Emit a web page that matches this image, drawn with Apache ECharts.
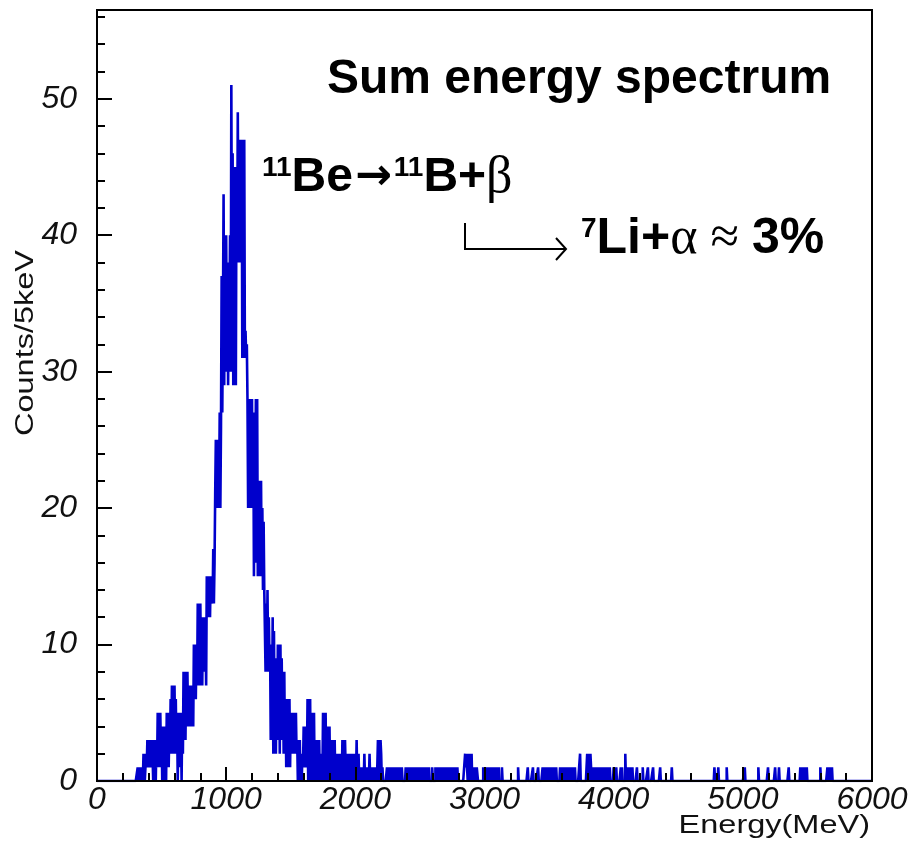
<!DOCTYPE html>
<html><head><meta charset="utf-8">
<script src="https://cdn.jsdelivr.net/npm/echarts@6/dist/echarts.min.js"></script>
<style>html,body{margin:0;padding:0;background:#fff}#c{width:915px;height:851px}</style>
</head><body><div id="c"></div>
<script>
// ---- data (counts per 5 keV bin) ----
const binWidth = 5;
const eMin = 0, eMax = 6000;
const coreStart = 300;   // energy of first bin in coreCounts
const coreCounts = [
  0,0,0,1,0,1,0,1,1,0,   1,0,2,1,0,1,2,1,3,1,
  3,1,2,3,1,3,2,0,3,1,   2,0,3,1,5,2,4,1,5,2,
  4,0,3,1,4,0,3,0,5,1,   5,1,4,2,6,2,7,3,6,2,
  7,3,6,2,5,0,4,1,5,2,   4,0,5,2,8,4,7,3,8,4,
  8,4,6,4,7,4,6,5,7,4,   10,6,9,6,10,7,13,8,12,7,
  13,8,11,7,12,8,12,9,11,7,   15,12,14,13,15,12,15,13,14,13,
  17,13,16,21,25,20,24,20,25,21,   27,20,26,37,27,34,43,29,40,30,
  40,32,38,29,36,34,40,30,51,35,   46,29,45,33,44,29,45,38,49,40,
  47,38,46,39,47,31,46,33,47,31,   33,31,32,28,20,27,21,28,20,26,
  28,20,27,15,26,21,28,16,28,15,   22,15,21,16,22,15,20,14,19,14,
  14,8,13,9,14,8,12,9,10,3,   9,3,12,2,11,4,9,2,8,3,
  10,3,9,2,10,4,9,3,8,2,   8,2,6,1,5,1,6,2,6,1,
  5,2,4,2,5,2,5,3,5,2,   3,0,2,0,3,0,2,0,2,1,
  4,1,3,1,4,1,6,0,5,0,   6,0,5,1,4,0,5,0,3,0,
  3,0,2,0,3,0,2,1,2,0,   5,0,4,1,5,0,3,0,4,0,
  4,0,3,0,3,1,2,0,3,0,   2,0,1,0,2,0,1,0,2,0,
  3,0,2,0,3,1,2,0,1,0,   2,0,1,0,2,1,0,2,0,1,
  2,0,3,0,1,2,0,1,0,1,   1,0,1,0,2,0,1,0,1,0,
  1,0,2,0,1,0,1,0,1,0,   1,0,1,0,1,3,0,2,0,3,
  2,0,1,0,0,0,0,0,0,1,   0,1,0,1,0,1,1,0,1,0
];
// sparse tail: bin start energies and their counts
const tailEnergies = [
  2300,2310,2320,2325,2335,2345,2350,2360,
  2390,2400,2405,2415,2425,2430,2440,2450,2455,2465,2475,2490,
  2505,2510,2520,2530,2540,2550,2560,2570,2595,
  2620,2625,2635,2645,2650,2660,2670,2675,2685,2695,2705,2715,2725,2735,2740,2750,2760,2770,2780,2790,
  2850,2855,2860,2865,2875,2880,2890,2900,2910,2920,2930,2940,2945,
  2990,3000,3010,3015,3030,3040,3050,3055,3065,3075,3095,3110,3135,
  3260,3335,3375,3415,3450,3460,3475,3485,3505,3515,3525,3540,3555,
  3585,3590,3600,3610,3615,3625,3635,3640,3650,3660,3670,3680,3690,3700,
  3740,3795,3800,3810,3820,3825,
  3835,3840,3850,3860,3865,3875,3885,3895,3905,3915,3925,3935,3945,
  3960,3970,4000,4010,4020,4055,4065,4090,4105,4115,4130,4145,
  4180,4225,4265,4305,4360,4450,
  4780,4810,4875,5015,5120,5195,5250,5280,5355,
  5445,5455,5465,5475,5485,5495,5600,5655,5665,5670,5680,5690
];
const tailCounts = [
  1,1,1,1,1,1,1,1,
  1,1,1,1,1,1,1,1,1,1,1,1,
  1,1,1,1,1,1,1,1,1,
  1,1,1,1,1,1,1,1,1,1,1,1,1,1,1,1,1,1,1,1,
  2,1,2,2,2,1,2,2,1,1,1,1,1,
  1,1,1,1,1,1,1,1,1,1,1,1,1,
  1,1,1,1,1,1,1,1,1,1,1,1,1,
  1,1,1,1,1,1,1,1,1,1,1,1,1,1,
  2,2,2,2,2,1,
  1,1,1,1,1,1,1,1,1,1,1,1,1,
  1,1,1,1,1,1,1,2,1,1,1,1,
  1,1,1,1,1,1,
  1,1,1,1,1,1,1,1,1,
  1,1,1,1,1,1,1,1,1,1,1,1
];
const yMax = 56.5;

// ---- build histogram ----
const nBins = (eMax - eMin) / binWidth;
const counts = new Array(nBins).fill(0);
coreCounts.forEach((c, k) => { counts[(coreStart - eMin) / binWidth + k] = c; });
tailEnergies.forEach((e, k) => { counts[(e - eMin) / binWidth] = tailCounts[k]; });
const histData = counts.map((c, i) => [eMin + i * binWidth, c]);
histData.push([eMax, counts[nBins - 1]]);

const black = '#000';
const labelFont = { fontFamily: 'Liberation Sans', fontStyle: 'italic', fontSize: 32, color: '#111' };
const big = { fontFamily: 'Liberation Sans', fontWeight: 'bold', fontSize: 48, lineHeight: 48, color: black };
const big2 = { fontFamily: 'Liberation Sans', fontWeight: 'bold', fontSize: 50, lineHeight: 48, color: black };
const sup = { fontFamily: 'Liberation Sans', fontWeight: 'bold', fontSize: 28, lineHeight: 32, verticalAlign: 'top', color: black };
const arrow = { fontFamily: 'DejaVu Sans', fontWeight: 'bold', fontSize: 44, lineHeight: 48, color: black, padding: [0, 2, 0, 2] };
const greek = { fontFamily: 'Liberation Serif', fontWeight: 'normal', fontSize: 52, lineHeight: 48, color: black };

const chart = echarts.init(document.getElementById('c'), null, { renderer: 'canvas' });
chart.setOption({
  animation: false,
  backgroundColor: '#fff',
  grid: { left: 97, right: 43, top: 10, bottom: 70, show: true, borderColor: black, borderWidth: 2, backgroundColor: 'transparent', z: 5 },
  title: [
    { text: 'Sum energy spectrum', left: 327, top: 56, padding: 0, textStyle: big },
    { text: '{s|11}{b|Be}{a|→}{s|11}{b|B+}{g|β}', left: 262, top: 154, padding: 0, textStyle: { rich: { s: sup, b: big, a: arrow, g: greek } } },
    { text: '{s|7}{b|Li+}{g|α ≈ }{b|3%}', left: 581, top: 215, padding: 0, textStyle: { rich: { s: sup, b: big2, g: greek } } }
  ],
  xAxis: [{
    type: 'value', min: eMin, max: eMax, interval: 1000, position: 'bottom', z: 5,
    axisLine: { onZero: false, lineStyle: { color: black, width: 2 } },
    axisTick: { inside: true, length: 14, lineStyle: { color: black, width: 2 } },
    minorTick: { show: true, splitNumber: 5, length: 8, lineStyle: { color: black, width: 2 } },
    splitLine: { show: false },
    axisLabel: Object.assign({ margin: 3, formatter: v => String(v) }, labelFont)
  }],
  yAxis: [{
    type: 'value', min: 0, max: yMax, interval: 10, position: 'left', z: 5,
    axisLine: { show: true, onZero: false, lineStyle: { color: black, width: 2 } },
    axisTick: { inside: true, length: 15, lineStyle: { color: black, width: 2 } },
    splitLine: { show: false },
    axisLabel: Object.assign({ margin: 20, formatter: v => (v % 10 === 0 ? String(v) : '') }, labelFont)
  }, {
    type: 'value', min: 0, max: yMax, interval: 2, position: 'left', offset: 0, z: 5,
    axisLine: { show: false },
    axisTick: { inside: true, length: 8, lineStyle: { color: black, width: 2 } },
    splitLine: { show: false },
    axisLabel: { show: false }
  }],
  graphic: [
    { type: 'text', x: 870, y: 826, scaleX: 1.3, z: 10,
      style: { text: 'Energy(MeV)', font: '25px "Liberation Sans"', fill: '#111', textAlign: 'right', textVerticalAlign: 'middle', align: 'right', verticalAlign: 'middle' } },
    { type: 'text', x: 26, y: 343, rotation: Math.PI / 2, scaleX: 1.3, z: 10,
      style: { text: 'Counts/5keV', font: '25px "Liberation Sans"', fill: '#111', textAlign: 'center', textVerticalAlign: 'middle', align: 'center', verticalAlign: 'middle' } },
    { type: 'polyline', z: 10, shape: { points: [[465, 223], [465, 249], [566, 249]] }, style: { stroke: black, lineWidth: 2, fill: null } },
    { type: 'polyline', z: 10, shape: { points: [[556, 238], [566, 249], [556, 260]] }, style: { stroke: black, lineWidth: 2, fill: null } }
  ],
  series: [{
    type: 'line', xAxisIndex: 0, yAxisIndex: 0, step: 'end', data: histData,
    showSymbol: false, symbol: 'none', z: 2,
    lineStyle: { color: '#0000cc', width: 2.6 }
  }]
});
</script></body></html>
